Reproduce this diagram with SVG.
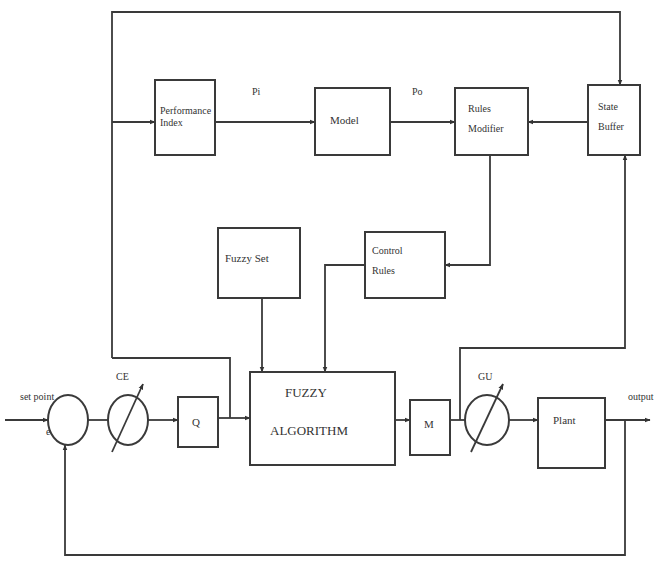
<svg xmlns="http://www.w3.org/2000/svg" width="660" height="568" viewBox="0 0 660 568">
<defs>
<marker id="ah" viewBox="0 0 10 10" refX="9" refY="5" markerWidth="6" markerHeight="6" orient="auto-start-reverse" markerUnits="userSpaceOnUse">
<path d="M0,1 L10,5 L0,9 z" fill="#333"/>
</marker>
<style>
.b{fill:#fff;stroke:#3a3a3a;stroke-width:2}
.l{fill:none;stroke:#3a3a3a;stroke-width:1.8}
.a{fill:none;stroke:#3a3a3a;stroke-width:1.8;marker-end:url(#ah)}
.t{font-family:"Liberation Serif",serif;fill:#333;font-size:10px}
.tm{font-family:"Liberation Serif",serif;fill:#333;font-size:11px}
.tb{font-family:"Liberation Serif",serif;fill:#333;font-size:13px}
</style>
</defs>
<rect width="660" height="568" fill="#fff"/>
<g id="connectors">
<polyline class="a" points="112,358 112,12 620,12 620,85"/>
<line class="a" x1="112" y1="122" x2="155" y2="122"/>
<line class="a" x1="215" y1="122" x2="315" y2="122"/>
<line class="a" x1="390" y1="122" x2="455" y2="122"/>
<line class="a" x1="588" y1="122" x2="528" y2="122"/>
<polyline class="a" points="490,155 490,265 445,265"/>
<polyline class="a" points="365,265 325,265 325,372"/>
<line class="a" x1="262" y1="298" x2="262" y2="372"/>
<polyline class="l" points="112,358 230,358 230,418"/>
<line class="a" x1="5" y1="420" x2="48" y2="420"/>
<line class="l" x1="88" y1="420" x2="108" y2="420"/>
<line class="a" x1="148" y1="420" x2="178" y2="420"/>
<line class="a" x1="218" y1="418" x2="250" y2="418"/>
<line class="a" x1="395" y1="420" x2="410" y2="420"/>
<line class="l" x1="450" y1="420" x2="465" y2="420"/>
<polyline class="a" points="460,420 460,348 625,348 625,155"/>
<line class="a" x1="509" y1="420" x2="538" y2="420"/>
<line class="a" x1="605" y1="420" x2="650" y2="420"/>
<polyline class="a" points="625,420 625,555 65,555 65,445"/>
</g>
<g id="perf"><rect class="b" x="155" y="80" width="60" height="75"/><text class="t" x="160" y="114" font-size="8">Performance</text><text class="t" x="160" y="126" font-size="8">Index</text></g>
<g id="model"><rect class="b" x="315" y="88" width="75" height="67"/><text class="tm" x="330" y="124">Model</text></g>
<g id="rules-modifier"><rect class="b" x="455" y="88" width="73" height="67"/><text class="t" x="468" y="112">Rules</text><text class="t" x="468" y="132">Modifier</text></g>
<g id="state-buffer"><rect class="b" x="588" y="85" width="52" height="70"/><text class="t" x="598" y="110">State</text><text class="t" x="598" y="130">Buffer</text></g>
<g id="fuzzy-set"><rect class="b" x="218" y="228" width="82" height="70"/><text class="tm" x="225" y="262">Fuzzy Set</text></g>
<g id="control-rules"><rect class="b" x="365" y="232" width="80" height="66"/><text class="t" x="372" y="254">Control</text><text class="t" x="372" y="274">Rules</text></g>
<g id="fuzzy-alg"><rect class="b" x="250" y="372" width="145" height="93"/><text class="tb" x="285" y="397">FUZZY</text><text class="tb" x="270" y="435">ALGORITHM</text></g>
<g id="sum"><ellipse class="b" cx="68" cy="420" rx="20" ry="25"/><text class="t" x="20" y="400" font-size="8">set point</text><text class="t" x="46" y="435" font-size="8">e</text></g>
<g id="ce"><ellipse class="b" cx="128" cy="420" rx="20" ry="25"/><line class="a" x1="112" y1="452" x2="143" y2="384"/><text class="t" x="116" y="380">CE</text></g>
<g id="q"><rect class="b" x="178" y="397" width="40" height="50"/><text class="tm" x="192" y="426">Q</text></g>
<g id="m"><rect class="b" x="410" y="400" width="40" height="55"/><text class="tm" x="424" y="428">M</text></g>
<g id="gu"><ellipse class="b" cx="487" cy="420" rx="22" ry="25"/><line class="a" x1="471" y1="452" x2="503" y2="384"/><text class="t" x="478" y="380">GU</text></g>
<g id="plant"><rect class="b" x="538" y="398" width="67" height="70"/><text class="tm" x="553" y="424">Plant</text><text class="t" x="628" y="400" font-size="8">output</text></g>
<g id="labels"><text class="t" x="252" y="95">Pi</text><text class="t" x="412" y="95">Po</text></g>
</svg>
